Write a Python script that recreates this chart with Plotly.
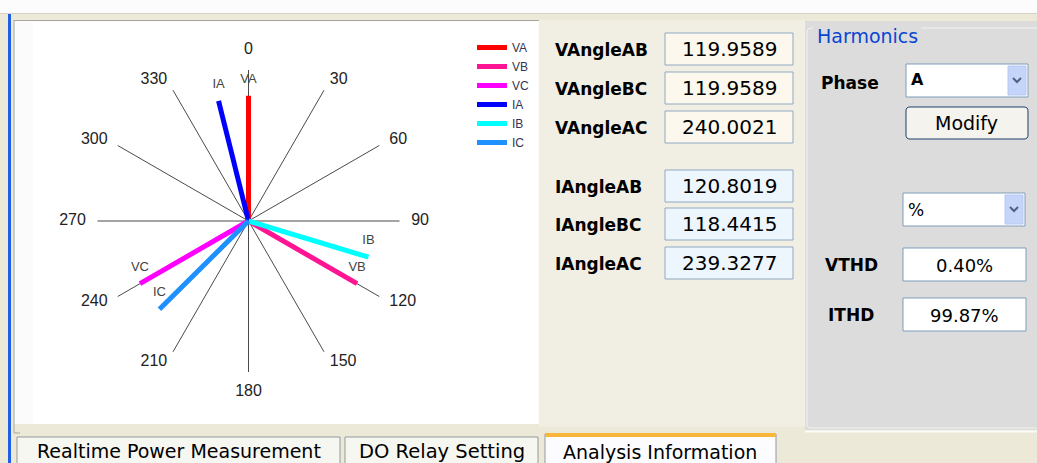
import plotly.graph_objects as go

W, H = 1037, 463

# ---------------- data ----------------
phase_names = ["VA", "VB", "VC", "IA", "IB", "IC"]
phase_angles = [0.0, 119.96, 240.0, 346.0, 106.8, 225.3]
phase_mags = [0.83, 0.83, 0.83, 0.82, 0.83, 0.83]
phase_colors = ["#FF0000", "#FF1493", "#FF00FF", "#0000FF", "#00FFFF", "#1E90FF"]

spoke_angles = [0, 30, 60, 90, 120, 150, 180, 210, 240, 270, 300, 330]
spoke_labels = ["0", "30", "60", "90", "120", "150", "180", "210", "240", "270", "300", "330"]
spoke_length = 1.0
label_radius = 1.077

v_angle_labels = ["VAngleAB", "VAngleBC", "VAngleAC"]
v_angle_values = ["119.9589", "119.9589", "240.0021"]
i_angle_labels = ["IAngleAB", "IAngleBC", "IAngleAC"]
i_angle_values = ["120.8019", "118.4415", "239.3277"]

thd_labels = ["VTHD", "ITHD"]
thd_values = ["0.40%", "99.87%"]

tab_labels = ["Realtime Power Measurement", "DO Relay Setting", "Analysis Information"]

# ---------------- helpers ----------------
def X(px):
    return px / W

def Y(py):
    return 1 - py / H

shapes = []
annotations = []

def rect(x0, y0, x1, y1, fill, line=None, lw=1):
    shapes.append(dict(type="rect", xref="paper", yref="paper",
                       x0=X(x0), x1=X(x1), y0=Y(y1), y1=Y(y0),
                       fillcolor=fill,
                       line=dict(color=line if line else fill, width=lw if line else 0),
                       layer="below"))

def hline(x0, x1, y, color, lw=1):
    shapes.append(dict(type="line", xref="paper", yref="paper",
                       x0=X(x0), x1=X(x1), y0=Y(y), y1=Y(y),
                       line=dict(color=color, width=lw), layer="below"))

def vline(x, y0, y1, color, lw=1):
    shapes.append(dict(type="line", xref="paper", yref="paper",
                       x0=X(x), x1=X(x), y0=Y(y0), y1=Y(y1),
                       line=dict(color=color, width=lw), layer="below"))

def path(pts, color, lw=1):
    d = "M " + " L ".join(f"{X(a):.5f},{Y(b):.5f}" for a, b in pts)
    shapes.append(dict(type="path", xref="paper", yref="paper", path=d,
                       line=dict(color=color, width=lw),
                       fillcolor="rgba(0,0,0,0)", layer="above"))

def rrect(x0, y0, x1, y1, r, fill, line, lw=1):
    def p(a, b):
        return f"{X(a):.5f},{Y(b):.5f}"
    d = (f"M {p(x0 + r, y0)} L {p(x1 - r, y0)} Q {p(x1, y0)} {p(x1, y0 + r)} "
         f"L {p(x1, y1 - r)} Q {p(x1, y1)} {p(x1 - r, y1)} L {p(x0 + r, y1)} "
         f"Q {p(x0, y1)} {p(x0, y1 - r)} L {p(x0, y0 + r)} Q {p(x0, y0)} {p(x0 + r, y0)} Z")
    shapes.append(dict(type="path", xref="paper", yref="paper", path=d,
                       line=dict(color=line, width=lw), fillcolor=fill, layer="below"))

def text(x, y, s, size=17, color="#000000", family="DejaVu Sans", anchor="center", bold=False):
    if bold:
        s = "<b>" + s + "</b>"
    annotations.append(dict(x=X(x), y=Y(y), xref="paper", yref="paper", text=s,
                            showarrow=False, xanchor=anchor, yanchor="middle",
                            font=dict(size=size, color=color, family=family)))

# ---------------- window chrome ----------------
rect(0, 0, W, 13, "#FCFCFC")
hline(0, W, 13.5, "#D6D3C6")
rect(0, 14, W, 20, "#ECE9D8")
rect(8, 14, 11, H, "#1F5FE6")

# chart panel
rect(14, 20, 539, 424, "#FBFBFC")
rect(33, 22, 538, 424, "#FFFFFF")
vline(14, 20, 433, "#A8A8A2")
hline(14, 539, 20.5, "#A8A8A2")
hline(14, 20, 433, "#A8A8A2")

# middle panel
rect(539, 20, 805, 427, "#F1EFE3")

for i, (lab, val) in enumerate(zip(v_angle_labels, v_angle_values)):
    y0 = [33, 72, 111][i]
    rect(665, y0, 793, y0 + 32, "#FDF8EE", "#8FA8C4")
    text(553, y0 + 17, lab, size=17, bold=True, anchor="left")
    text(729, y0 + 16, val, size=20)
for i, (lab, val) in enumerate(zip(i_angle_labels, i_angle_values)):
    y0 = [170, 208, 247][i]
    rect(665, y0, 793, y0 + 32, "#EEF6FD", "#8FA8C4")
    text(553, y0 + 17, lab, size=17, bold=True, anchor="left")
    text(729, y0 + 16, val, size=20)

# right panel (Harmonics)
rect(805, 21, W, 430, "#DCDCDC")
hline(805, W, 431.5, "#FAFAF8", 2)
rrect(807, 28, W + 5, 428, 4, "rgba(0,0,0,0)", "#F2F2EE", 1)
rect(813, 24, 921, 34, "#DCDCDC")
text(815, 36, "Harmonics", size=19, color="#0A46D5", anchor="left")

text(819, 83, "Phase", size=17, bold=True, anchor="left")
rect(906, 64, 1028, 97, "#FFFFFF", "#7F9DB9")
rect(1008, 66, 1026, 95, "#C5D5FA", "#B4C8F4")
path([(1013, 78), (1017, 82), (1021, 78)], "#4D6185", 2)
text(909, 79, "A", size=16, bold=True, anchor="left")

rrect(906, 107, 1028, 139, 4, "#F4F3EE", "#1D3E6E", 1)
text(966, 123, "Modify", size=19)

rect(903, 193, 1025, 226, "#FFFFFF", "#7F9DB9")
rect(1005, 195, 1023, 224, "#C5D5FA", "#B4C8F4")
path([(1010, 207), (1014, 211), (1018, 207)], "#4D6185", 2)
text(906, 210, "%", size=17, anchor="left")

for i, (lab, val) in enumerate(zip(thd_labels, thd_values)):
    y0 = [248, 298][i]
    rect(903, y0, 1026, y0 + 33, "#FFFFFF", "#7F9DB9")
    text(851, y0 + 17, lab, size=17, bold=True)
    text(964, y0 + 17, val, size=18)

# tabs
rect(17, 437, 340, H + 3, "#F7F7F2", "#919B9C")
rect(345, 437, 538, H + 3, "#F7F7F2", "#919B9C")
rect(545, 434, 776, H + 3, "#FCFCFE", "#919B9C")
rect(545, 433, 776, 437, "#F8B63A")
text(179, 451, tab_labels[0], size=19)
text(442, 451, tab_labels[1], size=19.5)
text(660, 452, tab_labels[2], size=19)

# ---------------- phasor diagram ----------------
fig = go.Figure()

# spokes
sp_r, sp_t = [], []
for a in spoke_angles:
    sp_r += [0, spoke_length, None]
    sp_t += [a, a, None]
fig.add_trace(go.Scatterpolar(
    r=sp_r, theta=sp_t, mode="lines", line=dict(color="#4A4A4A", width=1),
    showlegend=False, hoverinfo="skip", connectgaps=False))

for name, ang, mag, col in zip(phase_names, phase_angles, phase_mags, phase_colors):
    fig.add_trace(go.Scatterpolar(
        r=[0, mag], theta=[ang, ang], mode="lines", name=name,
        line=dict(color=col, width=5), cliponaxis=False, hoverinfo="skip"))

# phase labels at vector tips
fig.add_trace(go.Scatterpolar(
    r=phase_mags, theta=phase_angles, mode="markers+text", text=phase_names,
    textposition="top center", marker=dict(size=14, opacity=0),
    textfont=dict(size=13, color="#444444", family="Liberation Sans"),
    showlegend=False, cliponaxis=False, hoverinfo="skip"))

# spoke angle labels: aligned outward from the spoke tip
def outward(a):
    if a % 360 == 0:
        return "top center"
    if a == 180:
        return "bottom center"
    return "middle right" if a < 180 else "middle left"

fig.add_trace(go.Scatterpolar(
    r=[label_radius] * len(spoke_angles), theta=spoke_angles, mode="text", text=spoke_labels,
    textposition=[outward(a) for a in spoke_angles],
    textfont=dict(size=16, color="#222222", family="Liberation Sans"),
    showlegend=False, cliponaxis=False, hoverinfo="skip"))

cx, cy, R1 = 248.5, 221, 151   # centre and pixel length of a unit spoke
rmax = 1.17
Rd = R1 * rmax
fig.update_layout(
    width=W, height=H,
    margin=dict(l=0, r=0, t=0, b=0),
    paper_bgcolor="#ECE9D8",
    plot_bgcolor="rgba(0,0,0,0)",
    shapes=shapes,
    annotations=annotations,
    polar=dict(
        domain=dict(x=[X(cx - Rd), X(cx + Rd)], y=[Y(cy + Rd), Y(cy - Rd)]),
        bgcolor="rgba(0,0,0,0)",
        hole=0,
        radialaxis=dict(range=[0, rmax], visible=False, showgrid=False),
        angularaxis=dict(direction="clockwise", rotation=90, showgrid=False,
                         showline=False, ticks="", showticklabels=False),
    ),
    showlegend=True,
    legend=dict(x=X(472), y=Y(33), xanchor="left", yanchor="top",
                bgcolor="rgba(0,0,0,0)", tracegroupgap=0,
                font=dict(size=12, color="#333355", family="Liberation Sans"),
                itemwidth=30),
)

fig.write_html("out.html", config={"displayModeBar": False},
               post_script="document.body.style.margin='0px';")
